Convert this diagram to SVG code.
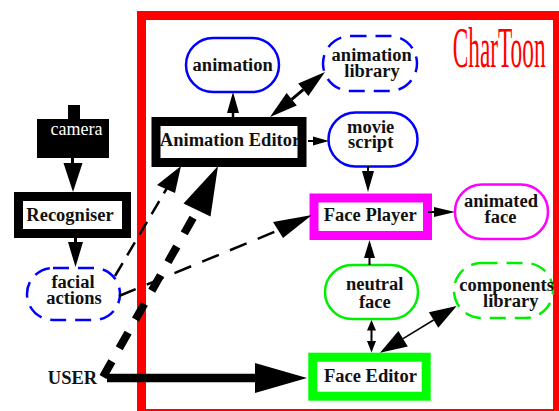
<svg xmlns="http://www.w3.org/2000/svg" width="559" height="411" viewBox="0 0 559 411">
<style>
text{font-family:"Liberation Serif","Times New Roman",serif;font-size:18.5px;font-weight:bold;fill:#111;text-anchor:middle}
.box{fill:#fff;stroke-width:9}
.st{fill:#fff;stroke-width:2.5}
.dash{stroke-dasharray:16 9}
.hd{fill:#000;stroke:none}
.ln{stroke:#000;fill:none}
</style>
<rect x="0" y="0" width="559" height="411" fill="#fff"/>
<g id="frame">
<rect x="141.5" y="15.5" width="416" height="398" fill="none" stroke="#ff0000" stroke-width="9"/>
<text transform="translate(452.7,66.7) scale(0.402,1)" x="0" y="0" style="font-size:58px;font-weight:normal;fill:#ff0000;text-anchor:start">CharToon</text>
</g>
<g id="camera">
<rect x="68" y="105" width="12" height="15" fill="#000"/>
<rect x="37" y="119" width="72" height="39" fill="#000"/>
<text x="76.5" y="135" style="fill:#fff;font-weight:normal;font-size:18px">camera</text>
</g>
<g id="recogniser">
<rect class="box" x="18.5" y="196.5" width="108" height="37" stroke="#000"/>
<text x="70" y="220.7">Recogniser</text>
</g>
<g id="facial-actions">
<rect class="st dash" x="27" y="268" width="93" height="52" rx="26" stroke="#0000ff"/>
<text x="73" y="288.3">facial</text>
<text x="74" y="304.3">actions</text>
</g>
<g id="user">
<text x="72.5" y="384">USER</text>
</g>
<g id="animation">
<rect class="st" x="186" y="38" width="93" height="54" rx="27" stroke="#0000ff"/>
<text x="232.7" y="70.7">animation</text>
</g>
<g id="animation-library">
<rect class="st dash" x="323" y="36" width="94" height="55" rx="27.5" stroke="#0000ff"/>
<text x="371.7" y="61">animation</text>
<text x="372" y="77">library</text>
</g>
<g id="animation-editor">
<text x="230" y="146">Animation Editor</text>
<rect class="box" x="156" y="121.5" width="146" height="41" stroke="#000" style="fill:none"/>
</g>
<g id="movie-script">
<rect class="st" x="328.5" y="112.5" width="89" height="54" rx="27" stroke="#0000ff"/>
<text x="370.7" y="132.5">movie</text>
<text x="370.7" y="148">script</text>
</g>
<g id="face-player">
<rect class="box" x="314" y="198" width="113.5" height="37.5" stroke="#ff00ff"/>
<text x="370.3" y="220.7">Face Player</text>
</g>
<g id="animated-face">
<rect class="st" x="455" y="184.5" width="93" height="54.5" rx="27" stroke="#ff00ff"/>
<text x="501" y="207">animated</text>
<text x="500.5" y="223">face</text>
</g>
<g id="neutral-face">
<rect class="st" x="325" y="265" width="93" height="54" rx="27" stroke="#00ee00"/>
<text x="374.7" y="290">neutral</text>
<text x="374.8" y="308">face</text>
</g>
<g id="components-library">
<rect class="st dash" x="454" y="263" width="99" height="55" rx="27.5" stroke="#00ee00"/>
<text x="506.6" y="290.7">components</text>
<text x="510.8" y="307.3">library</text>
</g>
<g id="face-editor">
<rect class="box" x="312.8" y="357.2" width="113.4" height="39" stroke="#00ff00"/>
<text x="370.5" y="381.7">Face Editor</text>
</g>
<g id="connectors">
<line class="ln" x1="72.5" y1="158" x2="72.5" y2="165" stroke-width="3"/>
<polygon class="hd" points="73,192 63.5,163 82.5,163"/>
<line class="ln" x1="75.5" y1="237" x2="75.5" y2="243" stroke-width="3"/>
<polygon class="hd" points="75.5,267 68,242 83,242"/>
<line class="ln" x1="233" y1="118" x2="233" y2="111" stroke-width="2.5"/>
<polygon class="hd" points="233,92 227,113 239,113"/>
<line class="ln" x1="291.7" y1="99.3" x2="303.3" y2="89.7" stroke-width="3"/>
<polygon class="hd" points="325,72 308.4,95.9 298.2,83.5"/>
<polygon class="hd" points="270,117 296.8,105.5 286.6,93.1"/>
<line class="ln" x1="308" y1="141" x2="315" y2="141" stroke-width="2"/>
<polygon class="hd" points="329,141 313,136.5 313,145.5"/>
<line class="ln" x1="368" y1="166" x2="368" y2="173" stroke-width="2"/>
<polygon class="hd" points="368,192 362,171 374,171"/>
<line class="ln" x1="428" y1="212" x2="435" y2="212" stroke-width="2"/>
<polygon class="hd" points="455,212 434,207 434,217"/>
<line class="ln" x1="369.5" y1="265" x2="369.5" y2="257" stroke-width="2"/>
<polygon class="hd" points="369.5,240 364,258 375,258"/>
<line class="ln" x1="371.5" y1="329" x2="371.5" y2="342" stroke-width="2"/>
<polygon class="hd" points="371.5,320 367,330.5 376,330.5"/>
<polygon class="hd" points="371.5,352.5 367,341 376,341"/>
<line class="ln" x1="403.1" y1="338.7" x2="433.6" y2="320" stroke-width="1.5"/>
<polygon class="hd" points="456.7,306 438.3,327.7 428.9,312.3"/>
<polygon class="hd" points="380,352.7 407.8,346.4 398.4,331"/>
<line class="ln" x1="107" y1="378" x2="258" y2="378" stroke-width="8.5"/>
<polygon class="hd" points="307,378 255,363 255,393"/>
<line class="ln" x1="103" y1="377" x2="198" y2="209" stroke-width="8" stroke-dasharray="18 15"/>
<polygon class="hd" points="218,166 210.5,216.5 183.5,203.5"/>
<line class="ln" x1="115" y1="276" x2="167" y2="188" stroke-width="2.5" stroke-dasharray="15 9"/>
<polygon class="hd" points="181,166 157,185 175,193"/>
<line class="ln" x1="119" y1="296" x2="279" y2="230" stroke-width="2.5" stroke-dasharray="18 12"/>
<polygon class="hd" points="312,215 273,222 283,238"/>
</g>
</svg>
